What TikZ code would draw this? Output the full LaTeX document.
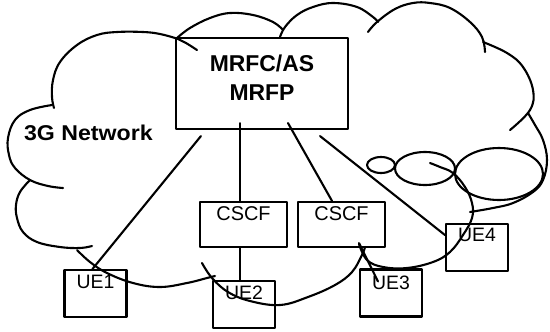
\documentclass[tikz,border=0pt]{standalone}
\usepackage{fontspec}
\setmainfont{Liberation Sans}
\usetikzlibrary{calc}
\begin{document}
\begin{tikzpicture}[x=1bp,y=-1bp,line width=2.1bp,line join=round,line cap=round,
  box/.style={draw,rectangle,inner sep=0pt},
  uebox/.style={box,minimum width=62bp,minimum height=47bp},
  cscfbox/.style={box,minimum width=87bp,minimum height=45bp},
  bump/.style={smooth,tension=0.65},
  lbl/.style={anchor=base,inner sep=0pt,font=\fontsize{19.5}{22}\selectfont},
  biglbl/.style={anchor=base,inner sep=0pt,font=\fontsize{23}{28}\selectfont\bfseries},
]
\useasboundingbox (0,0) rectangle (550,331);

% boxes
\node[box,minimum width=172bp,minimum height=91bp] (mrfc) at (262,83.5) {};
\node[cscfbox] (cscf1) at (243.5,224.5) {};
\node[cscfbox] (cscf2) at (341.5,224.5) {};
\node[uebox] (ue1) at (95.5,293.5) {};
\node[uebox] (ue2) at (244,304.5) {};
\node[uebox] (ue3) at (391,293) {};
\node[uebox] (ue4) at (477,247.5) {};

% labels
\node[biglbl] (mrfct) at ($(mrfc.north)+(0,35)$) {MRFC/AS};
\node[biglbl] (mrfpt) at ($(mrfc.north)+(0,64)$) {MRFP};
\node[anchor=base west,inner sep=0pt,xscale=1.08,font=\fontsize{21.5}{26}\selectfont\bfseries] (net) at (23,140) {3G Network};
\node[lbl,font=\fontsize{20}{24}\selectfont] (c1t) at ($(cscf1.north)+(0,20)$) {CSCF};
\node[lbl,font=\fontsize{20}{24}\selectfont] (c2t) at ($(cscf2.north)+(0,20)$) {CSCF};
\node[lbl] (u1t) at ($(ue1.north)+(0,20)$) {UE1};
\node[lbl] (u2t) at ($(ue2.north)+(0,20)$) {UE2};
\node[lbl] (u3t) at ($(ue3.north)+(0,21)$) {UE3};
\node[lbl] (u4t) at ($(ue4.north)+(0,19)$) {UE4};

% cloud outline, bump by bump
\draw plot[bump] coordinates {(197,50) (186,43) (178,39) (160,34) (143,32) (117,32) (97,35) (77,45) (60,62) (53,80) (52,97) (54,108)};
\draw plot[bump] coordinates {(52,105) (30,110) (15,120) (8,138) (9,155) (15,168) (30,180) (48,186) (63,188)};
\draw plot[bump] coordinates {(30,180) (20,192) (16,205) (17,218) (23,232) (37,242) (60,247) (80,248) (92,246)};
\draw plot[bump] coordinates {(77,250) (90,262) (107,273) (133,283) (160,287) (187,283) (207,278) (215,276)};
\draw plot[bump] coordinates {(202,263) (212,278) (228,292) (250,301) (280,305) (308,297) (335,285) (352,272) (362,255) (365,247)};
\draw plot[bump] coordinates {(359,244) (367,260) (383,267) (407,268) (433,262) (450,252) (463,235) (472,218) (472,203) (465,187) (453,173) (440,167) (430,163)};
\draw plot[bump] coordinates {(528,113) (535,125) (543,140) (547,160) (543,180) (533,192) (513,203) (493,208) (470,212)};
\draw plot[bump] coordinates {(483,42) (507,53) (523,67) (533,90) (530,110) (510,130)};
\draw plot[bump] coordinates {(368,32) (377,22) (395,9) (413,3) (430,3) (450,8) (470,22) (482,37) (485,52)};
\draw plot[bump] coordinates {(280,37) (285,27) (297,15) (313,7) (333,3) (357,7) (373,17) (378,22)};
\draw plot[bump] coordinates {(177,38) (190,28) (210,18) (230,13) (253,15) (273,22) (283,30)};

% small clouds
\draw (381,165) ellipse [x radius=14bp,y radius=8bp];
\draw (425,168.5) ellipse [x radius=30bp,y radius=16.5bp];
\draw (499,174) ellipse [x radius=44bp,y radius=26bp];

% connections
\coordinate (v) at ($(mrfc.south)+(-22,-7)$);
\draw ($(mrfc.south west)+(26,6)$) -- ($(ue1.north)+(-3,0)$);
\draw (v) -- (v |- cscf1.north);
\draw (v |- cscf1.south) -- (v |- ue2.north);
\draw ($(mrfc.south)+(26,-7)$) -- ($(cscf2.north)+(-9.5,0)$);
\draw ($(mrfc.south)+(58,6)$) -- ($(ue4.west)+(0,-12.5)$);
\draw ($(cscf2.south)+(17.5,-5)$) -- ($(ue3.north)+(-13,13)$);
\end{tikzpicture}
\end{document}
